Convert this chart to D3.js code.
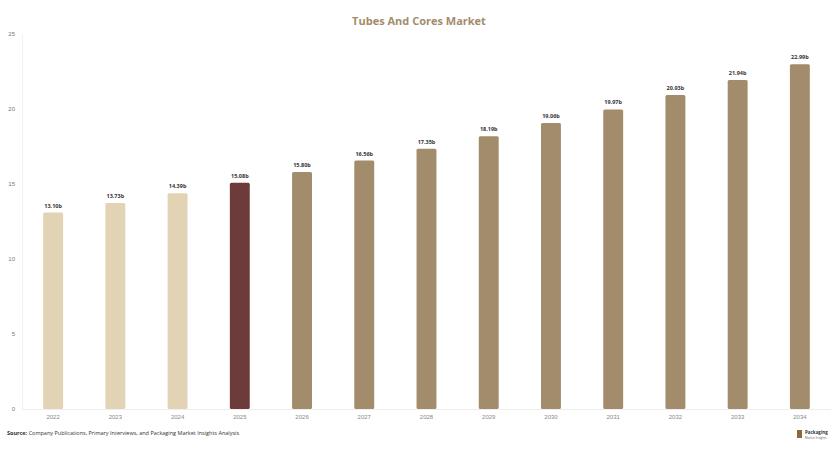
<!DOCTYPE html><html><head><meta charset="utf-8"><script src="https://cdn.jsdelivr.net/npm/d3@7"></script>
<style>body{margin:0;background:#fff;font-family:"Open Sans",Arial,sans-serif}</style></head><body><svg id="c" width="839" height="452"></svg>
<script>
const years=["2022","2023","2024","2025","2026","2027","2028","2029","2030","2031","2032","2033","2034"];
const values=[13.10,13.73,14.39,15.08,15.80,16.56,17.35,18.19,19.06,19.97,20.93,21.94,22.99];
const yTicks=[0,5,10,15,20,25];
const svg=d3.select("#c");
const x=d3.scaleBand().domain(years).range([22,831]).paddingInner(0.68).paddingOuter(0.34);
const y=d3.scaleLinear().domain([0,25]).range([409,34]);
const col=(i)=>i<3?"#e2d3b5":i===3?"#6e3b3b":"#a38c6c";
svg.append("text").attr("x",419).attr("y",25).attr("text-anchor","middle").attr("font-size",11).attr("font-weight","bold").attr("fill","#a38c6c").text("Tubes And Cores Market");
svg.append("line").attr("x1",22).attr("x2",831).attr("y1",409.5).attr("y2",409.5).attr("stroke","#eee");
svg.append("line").attr("x1",22.5).attr("x2",22.5).attr("y1",34).attr("y2",409).attr("stroke","#f2f2f2");
const ya=svg.append("g").attr("transform","translate(18,0)").call(d3.axisLeft(y).tickValues(yTicks).tickSize(0));
ya.select(".domain").remove();ya.selectAll("text").attr("font-size",6).attr("fill","#777");
const xa=svg.append("g").attr("transform","translate(0,412)").call(d3.axisBottom(x).tickSize(0));
xa.select(".domain").remove();xa.selectAll("text").attr("font-size",6).attr("fill","#888");
svg.selectAll("rect.b").data(values).join("rect").attr("class","b").attr("x",(d,i)=>x(years[i])).attr("width",x.bandwidth()).attr("y",d=>y(d)).attr("height",d=>409-y(d)).attr("rx",1.5).attr("fill",(d,i)=>col(i));
svg.selectAll("text.l").data(values).join("text").attr("class","l").attr("x",(d,i)=>x(years[i])+x.bandwidth()/2).attr("y",d=>y(d)-5).attr("text-anchor","middle").attr("font-size",5.5).attr("font-weight","bold").attr("fill","#333").text(d=>d.toFixed(2)+"b");
const s=svg.append("text").attr("x",7).attr("y",435).attr("font-size",5.5).attr("fill","#333");
s.append("tspan").attr("font-weight","bold").text("Source:");s.append("tspan").text(" Company Publications, Primary Interviews, and Packaging Market Insights Analysis");
svg.append("rect").attr("x",797).attr("y",430).attr("width",5).attr("height",8).attr("fill","#8a6a3a");
svg.append("text").attr("x",805).attr("y",434).attr("font-size",4.5).attr("font-weight","bold").attr("fill","#333").text("Packaging");
svg.append("text").attr("x",805).attr("y",439).attr("font-size",3).attr("fill","#666").text("Market Insights");
</script></body></html>
